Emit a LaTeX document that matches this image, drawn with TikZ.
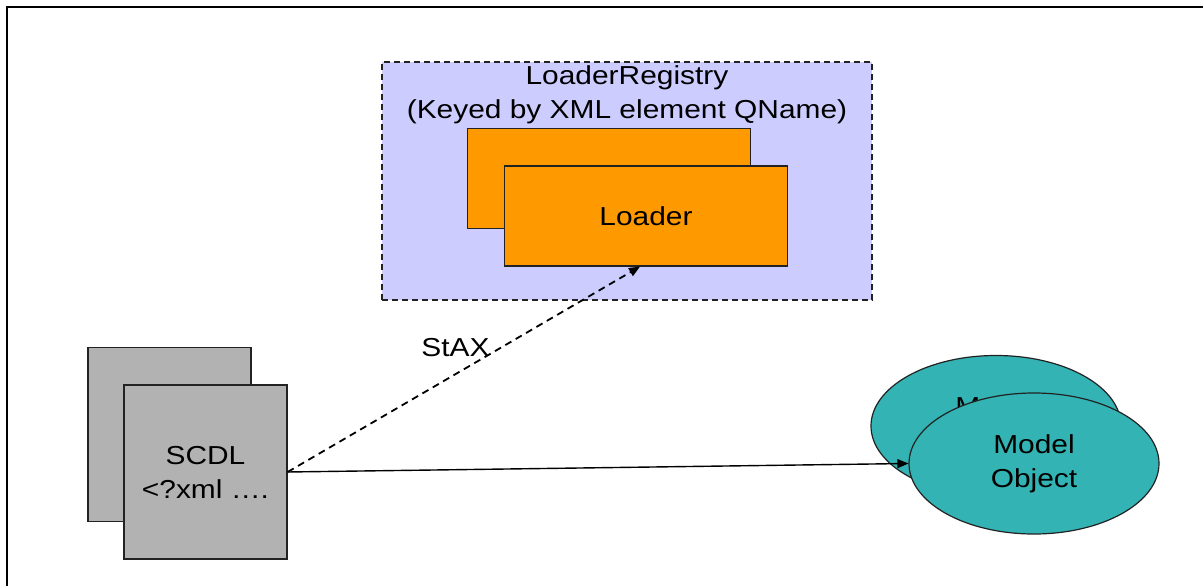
\documentclass[tikz,border=0pt]{standalone}
\usepackage{fontspec}
\setmainfont{Liberation Sans}[FakeStretch=1.15]
\usetikzlibrary{shapes.geometric,arrows.meta,calc}
\definecolor{regfill}{HTML}{CCCCFF}
\definecolor{loaderfill}{HTML}{FF9900}
\definecolor{docfill}{HTML}{B2B2B2}
\definecolor{objfill}{HTML}{33B3B3}
\definecolor{edge}{HTML}{222222}
\tikzset{
  txt/.style={font=\fontsize{26}{34}\selectfont, align=center, text=black},
  registry/.style={rectangle, draw=edge, fill=regfill, line width=1.3pt,
    dash pattern=on 6pt off 4pt, minimum width=490pt, minimum height=238pt, inner sep=0pt},
  loaderbox/.style={rectangle, draw=edge, fill=loaderfill, line width=1.2pt,
    minimum width=283pt, minimum height=100pt, inner sep=0pt, txt},
  docbox/.style={rectangle, draw=edge, fill=docfill, line width=1.2pt,
    minimum width=163pt, minimum height=174pt, inner sep=0pt, txt},
  objshape/.style={ellipse, draw=edge, fill=objfill, line width=1.2pt,
    minimum width=250pt, minimum height=141pt, inner sep=0pt, txt},
  flow/.style={draw=black, line width=1.4pt, -{Triangle[length=11pt,width=9pt]}},
  streamflow/.style={flow, line width=1.8pt, dash pattern=on 7pt off 5pt},
}
\begin{document}
\begin{tikzpicture}[x=1pt,y=-1pt]
\useasboundingbox (0,0) rectangle (1203,586);
\fill[white] (0,0) rectangle (1203,586);
% outer frame (open at right and bottom)
\draw[line width=2.6pt, line cap=rect] (7,586) -- (7,7) -- (1203,7);

% loader registry
\node[registry] (reg) at (627,181) {};
\node[txt, inner sep=0pt] (regtitle) at (627,95) {LoaderRegistry\\(Keyed by XML element QName)};
\node[loaderbox] (loaderback) at (609,178.5) {};
\node[loaderbox] (loader) at (646,216) {Loader};

% SCDL documents
\node[docbox] (scdlback) at (169.5,434.5) {};
\node[docbox] (scdl) at (205.5,472) {SCDL\\<?xml ….};

% model objects
\node[objshape] (moback) at (996,426) {Model\\Object};
\node[objshape] (mo) at (1034,463.5) {Model\\Object};

% connectors
\draw[streamflow] (scdl.east) -- ([xshift=-6pt]loader.south);
\node[txt, inner sep=0pt] (stax) at (455.5,348) {StAX};
\draw[flow] (scdl.east) -- (mo.west);
\end{tikzpicture}
\end{document}
